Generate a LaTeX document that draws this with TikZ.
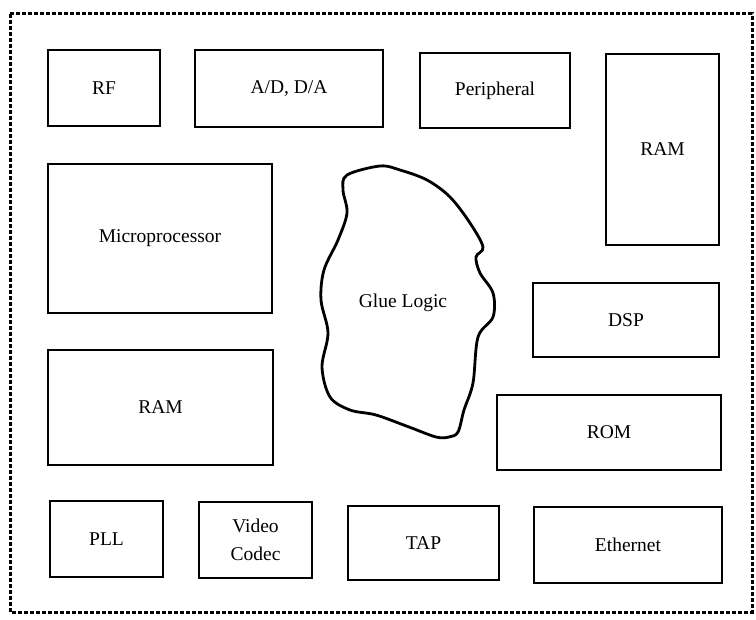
\documentclass[tikz,border=0pt]{standalone}
\usepackage{fontspec}
\setmainfont{Liberation Serif}
\begin{document}
\begin{tikzpicture}[x=1pt,y=-1pt,
  blk/.style={draw=black, line width=2.6pt, inner sep=0pt, font=\fontsize{19.5}{28}\selectfont, align=center},
  frame/.style={draw=black, line width=3pt, dash pattern=on 4pt off 2pt},
  blob/.style={draw=black, line width=2.8pt}]
\useasboundingbox (0,0) rectangle (756,620);
\draw[frame] (10,14) rectangle (752,612);
\node[blk, minimum width=112pt, minimum height=76pt] (rf) at (104,88) {RF};
\node[blk, minimum width=188pt, minimum height=77pt] (adda) at (289,88.5) {\raisebox{-2pt}{A/D, D/A}};
\node[blk, minimum width=150pt, minimum height=75pt] (peri) at (495,90.5) {Peripheral};
\node[blk, minimum width=113pt, minimum height=191pt] (ramr) at (662.5,149.5) {RAM};
\node[blk, minimum width=224pt, minimum height=149pt] (micro) at (160,238.5) {Microprocessor};
\node[blk, minimum width=186pt, minimum height=74pt] (dsp) at (626,320) {DSP};
\node[blk, minimum width=225pt, minimum height=115pt] (raml) at (160.5,407.5) {RAM};
\node[blk, minimum width=224pt, minimum height=75pt] (rom) at (609,432.5) {ROM};
\node[blk, minimum width=113pt, minimum height=76pt] (pll) at (106.5,539) {PLL};
\node[blk, minimum width=113pt, minimum height=76pt] (video) at (255.5,540) {Video\\Codec};
\node[blk, minimum width=151pt, minimum height=74pt] (tap) at (423.5,543) {TAP};
\node[blk, minimum width=188pt, minimum height=76pt] (eth) at (628,545) {Ethernet};
\draw[blob] plot[smooth cycle, tension=0.55] coordinates {
 (380,166) (400,170) (427,180) (450,197) (470,223) (483,247) (476,257) (480,273)
 (493,293) (493,317) (478,337) (473,383) (464,410) (458,432) (449,437) (436,437)
 (409,427) (376,415) (350,410) (330,397) (322,367) (328,333) (321,300) (324,270)
 (338,240) (347,213) (343,190) (347,175)};
\node[font=\fontsize{19.5}{28}\selectfont] (glue) at (403,303) {Glue Logic};
\end{tikzpicture}
\end{document}
